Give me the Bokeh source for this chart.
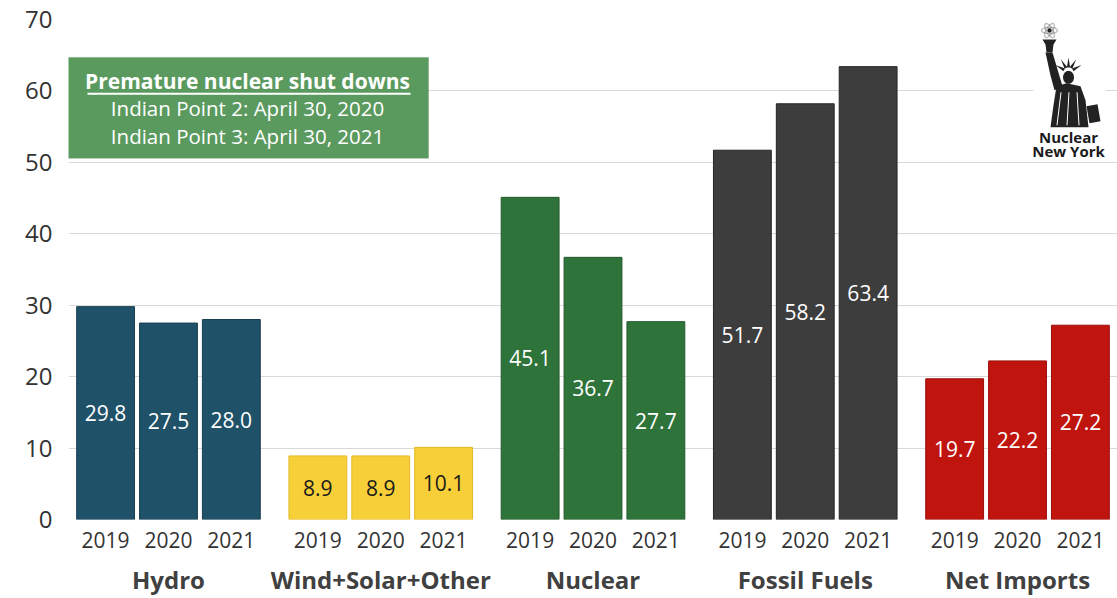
import math
from bokeh.plotting import figure
from bokeh.models import (FactorRange, ColumnDataSource, FixedTicker, Label,
                          BoxAnnotation, PolyAnnotation)
from bokeh.core.properties import value
from bokeh.embed import file_html
from bokeh.resources import INLINE

categories = ["Hydro", "Wind+Solar+Other", "Nuclear", "Fossil Fuels", "Net Imports"]
years = ["2019", "2020", "2021"]
hydro = [29.8, 27.5, 28.0]
wind_solar_other = [8.9, 8.9, 10.1]
nuclear = [45.1, 36.7, 27.7]
fossil_fuels = [51.7, 58.2, 63.4]
net_imports = [19.7, 22.2, 27.2]
y_ticks = [0, 10, 20, 30, 40, 50, 60, 70]
box_title = "Premature nuclear shut downs"
box_lines = ["Indian Point 2: April 30, 2020", "Indian Point 3: April 30, 2021"]
logo_lines = ["Nuclear", "New York"]

series = [hydro, wind_solar_other, nuclear, fossil_fuels, net_imports]
fills = ["#1F5169", "#F7CF38", "#2E733A", "#3D3D3D", "#C0140F"]
lines = ["#173E52", "#E3BA25", "#22592C", "#262626", "#9A0E0B"]
label_colors = ["white", "#1A1A1A", "white", "white", "white"]

FONT = "Open Sans"
LEFT, TOP, BOTTOM = 68, 19, 520
PX_PER_UNIT = (BOTTOM - TOP) / 70.0

x, top, half, fc, lc, tc, txt = [], [], [], [], [], [], []
for cat, vals, f, l, t in zip(categories, series, fills, lines, label_colors):
    for yr, v in zip(years, vals):
        x.append((cat, yr))
        top.append(v)
        half.append(v / 2)
        fc.append(f)
        lc.append(l)
        tc.append(t)
        txt.append(f"{v:.1f}")

src = ColumnDataSource(dict(x=x, top=top, half=half, fc=fc, lc=lc, tc=tc, txt=txt))

xr = FactorRange(*x, factor_padding=0.0, group_padding=0.376,
                 range_padding=0.09, range_padding_units="absolute")

p = figure(x_range=xr, y_range=(0, 70), width=1117, height=598,
           output_backend="svg", toolbar_location=None,
           min_border_left=LEFT, min_border_right=0, min_border_top=TOP,
           min_border_bottom=598 - BOTTOM)
p.outline_line_color = None
p.background_fill_color = "white"
p.border_fill_color = "white"

p.vbar(x="x", top="top", width=0.92, source=src, fill_color="fc",
       line_color="lc", line_width=1)

p.text(x="x", y="half", text="txt", source=src, text_color="tc",
       text_align="center", text_baseline="middle",
       text_font=value(FONT), text_font_size="21px")

# axes
p.xgrid.grid_line_color = None
p.ygrid.grid_line_color = "#D9D9D9"
p.ygrid.grid_line_width = 1
p.yaxis.ticker = FixedTicker(ticks=y_ticks)
p.yaxis.axis_line_color = None
p.yaxis.major_tick_line_color = None
p.yaxis.minor_tick_line_color = None
p.yaxis.major_tick_out = 0
p.yaxis.major_label_standoff = 16
p.yaxis.major_label_text_font = FONT
p.yaxis.major_label_text_font_size = "24px"
p.yaxis.major_label_text_color = "#333333"

xa = p.xaxis[0]
xa.axis_line_color = None
xa.major_tick_line_color = None
xa.minor_tick_line_color = None
xa.major_tick_out = 0
xa.separator_line_color = None
xa.major_label_standoff = 12
xa.major_label_text_font = FONT
xa.major_label_text_font_size = "21px"
xa.major_label_text_color = "#333333"
xa.group_text_font = FONT
xa.group_text_font_size = "24px"
xa.group_text_font_style = "bold"
xa.group_text_color = "#404040"


# helpers for decorative (non-data) placement: page pixels -> frame screen x / data y
def sx(px):
    return px - LEFT


def dy(py):
    return (BOTTOM - py) / PX_PER_UNIT


# annotation box
p.add_layout(BoxAnnotation(left=sx(67), right=sx(428), left_units="screen", right_units="screen",
                           top=dy(57), bottom=dy(158), fill_color="#5B9A5F", fill_alpha=1.0,
                           line_color="#4E8A52", line_width=1))
p.add_layout(Label(x=sx(247), y=dy(81), x_units="screen", text=box_title, text_align="center",
                   text_baseline="middle", text_font=FONT, text_font_size="21px",
                   text_font_style="bold", text_color="white"))
p.add_layout(BoxAnnotation(left=sx(87), right=sx(410), left_units="screen", right_units="screen",
                           top=dy(92.5), bottom=dy(94.3), fill_color="white", fill_alpha=1.0,
                           line_color=None))
for i, t in enumerate(box_lines):
    p.add_layout(Label(x=sx(247), y=dy(108 + 28 * i), x_units="screen", text=t, text_align="center",
                       text_baseline="middle", text_font=FONT, text_font_size="20.5px",
                       text_color="white"))

# logo: white backing, simple statue silhouette and text
p.add_layout(BoxAnnotation(left=sx(1033), right=sx(1105), left_units="screen", right_units="screen",
                           top=dy(24), bottom=dy(158), fill_color="white", fill_alpha=1.0,
                           line_color=None))
INK = "#222222"


def poly(pts, fill=INK, line=None, lw=1.0):
    p.add_layout(PolyAnnotation(xs=[sx(a) for a, b in pts], ys=[dy(b) for a, b in pts],
                                xs_units="screen", fill_color=fill, fill_alpha=1.0 if fill else 0.0,
                                line_color=line, line_width=lw))


def ellipse_pts(cx, cy, rx, ry, rot=0.0, n=24):
    out = []
    for k in range(n):
        t = 2 * math.pi * k / n
        ex, ey = rx * math.cos(t), ry * math.sin(t)
        out.append((cx + ex * math.cos(rot) - ey * math.sin(rot),
                    cy + ex * math.sin(rot) + ey * math.cos(rot)))
    return out


# atom on torch
for r in (0.0, math.pi / 3, -math.pi / 3):
    poly(ellipse_pts(1049, 30, 8, 3.2, r), fill=None, line=INK, lw=1.3)
poly(ellipse_pts(1049, 30, 2.2, 2.2), fill=INK)
# torch cup
poly([(1042, 39), (1056, 39), (1053, 44), (1052, 52), (1046, 52), (1045, 44)])
# raised arm
poly([(1045, 52), (1052, 52), (1062, 86), (1054, 90), (1050, 75)])
# head
poly(ellipse_pts(1068, 77, 5.5, 6.5))
# crown spikes
for ang in (-60, -30, 0, 30, 60):
    a = math.radians(ang - 90)
    bx_, by_ = 1068 + 5 * math.cos(a), 72 + 5 * math.sin(a)
    tx_, ty_ = 1068 + 15 * math.cos(a), 72 + 15 * math.sin(a)
    nx, ny = -math.sin(a) * 1.6, math.cos(a) * 1.6
    poly([(bx_ + nx, by_ + ny), (tx_, ty_), (bx_ - nx, by_ - ny)])
# robe
poly([(1056, 86), (1066, 83), (1080, 86), (1085, 100), (1088, 127), (1050, 127), (1053, 105)])
# folds
for a0, a1 in ((1060, 1056), (1068, 1066), (1076, 1078)):
    poly([(a0, 92), (a0 + 1, 92), (a1 + 1, 125), (a1, 125)], fill="white")
# tablet
poly([(1086, 106), (1097, 104), (1100, 121), (1089, 123)])

for i, t in enumerate(logo_lines):
    p.add_layout(Label(x=sx(1068), y=dy(137 + 14 * i), x_units="screen", text=t, text_align="center",
                       text_baseline="middle", text_font=FONT, text_font_size="15px",
                       text_font_style="bold", text_color="#1A1A1A"))

open("out.html", "w").write(file_html(p, INLINE))
